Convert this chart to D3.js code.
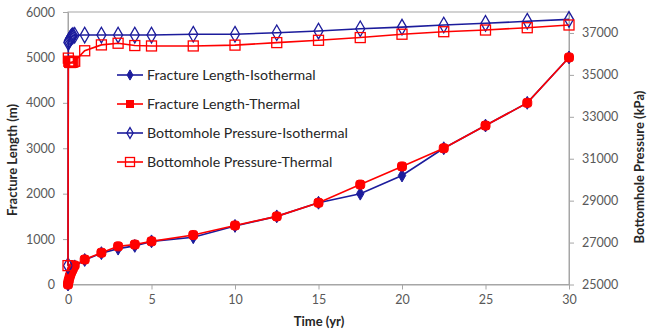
<!DOCTYPE html>
<html><head><meta charset="utf-8">
<script src="https://cdn.jsdelivr.net/npm/d3@7/dist/d3.min.js"></script>
<style>
html,body{margin:0;padding:0;background:#fff;}
text{font-family:Lato,"Liberation Sans",sans-serif;}
</style></head>
<body><svg id="c" width="648" height="335"></svg>
<script>
// ---- data ----
const timeYr = [0,0.02,0.05,0.1,0.15,0.2,0.25,0.3,0.4,1,2,3,4,5,7.5,10,12.5,15,17.5,20,22.5,25,27.5,30];
const lengthIso = [0,40,90,150,200,250,290,330,400,540,690,790,850,950,1040,1290,1500,1800,2000,2400,3000,3500,4000,5000];
const lengthTh  = [0,50,100,170,230,280,320,360,420,550,700,840,880,950,1090,1300,1500,1800,2200,2600,3000,3500,4000,5000];
const bhpIso = [25900,36550,36620,36700,36760,36810,36850,36870,36890,36900,36900,36900,36900,36900,36940,36940,37010,37090,37200,37280,37380,37460,37560,37650];
const bhpTh  = [25900,35800,35650,35600,35590,35600,35610,35620,35650,36150,36430,36510,36400,36380,36380,36420,36540,36650,36780,36940,37060,37140,37250,37380];
const xTicks = [0,5,10,15,20,25,30];
const yLeftTicks = [0,1000,2000,3000,4000,5000,6000];
const yRightTicks = [25000,27000,29000,31000,33000,35000,37000];
const seriesNames = ["Fracture Length-Isothermal","Fracture Length-Thermal","Bottomhole Pressure-Isothermal","Bottomhole Pressure-Thermal"];

// ---- layout ----
const L=68, R=569, T=12, B=284.5;
const svg=d3.select("#c");
const x=d3.scaleLinear().domain([0,30]).range([L,R]);
const yL=d3.scaleLinear().domain([0,6000]).range([B,T]);
const yR=d3.scaleLinear().domain([25000,38000]).range([B,T]);
const navy="#1c1c9c", red="#ff0000", axisCol="#a6a6a6", txt="#595959";
const fmt=d3.format("d");

// plot border
svg.append("rect").attr("x",L).attr("y",T).attr("width",R-L).attr("height",B-T)
  .attr("fill","none").attr("stroke",axisCol).attr("stroke-width",1);

function styleAxis(g){
  g.select(".domain").attr("stroke",axisCol);
  g.selectAll(".tick line").attr("stroke",axisCol);
  g.selectAll(".tick text").attr("fill",txt).style("font-size","12.5px").style("font-family","Lato, sans-serif");
}
svg.append("g").attr("transform",`translate(0,${B})`)
  .call(d3.axisBottom(x).tickValues(xTicks).tickFormat(fmt).tickSize(5).tickPadding(6).tickSizeOuter(0))
  .call(styleAxis);
svg.append("g").attr("transform",`translate(${L},0)`)
  .call(d3.axisLeft(yL).tickValues(yLeftTicks).tickFormat(fmt).tickSize(5).tickPadding(8).tickSizeOuter(0))
  .call(styleAxis);
svg.append("g").attr("transform",`translate(${R},0)`)
  .call(d3.axisRight(yR).tickValues(yRightTicks).tickFormat(fmt).tickSize(5).tickPadding(8).tickSizeOuter(0))
  .call(styleAxis);

// titles
svg.append("text").attr("x",319).attr("y",326).attr("text-anchor","middle")
  .style("font-size","13px").style("font-weight","bold").attr("fill","#262626").text("Time (yr)");
svg.append("text").attr("transform","translate(17,160) rotate(-90)").attr("text-anchor","middle")
  .style("font-size","13px").style("font-weight","bold").attr("fill","#262626").text("Fracture Length (m)");
svg.append("text").attr("transform","translate(644,167) rotate(-90)").attr("text-anchor","middle")
  .style("font-size","13px").style("font-weight","bold").attr("fill","#262626").text("Bottomhole Pressure (kPa)");

// series
const dI=timeYr.map((t,i)=>({t,v:lengthIso[i]}));
const dT=timeYr.map((t,i)=>({t,v:lengthTh[i]}));
const pI=timeYr.map((t,i)=>({t,v:bhpIso[i]}));
const pT=timeYr.map((t,i)=>({t,v:bhpTh[i]}));

const diamond=d3.symbol().type(d3.symbolDiamond);
function drawSeries(data,ys,color,kind){
  const g=svg.append("g");
  g.append("path").datum(data)
    .attr("d",d3.line().x(d=>x(d.t)).y(d=>ys(d.v)))
    .attr("fill","none").attr("stroke",color).attr("stroke-width",1.6);
  drawMarkers(g,data.map(d=>[x(d.t),ys(d.v)]),color,kind);
}
function drawMarkers(g,pts,color,kind,small){
  pts.forEach(([px,py])=>{
    if(kind==="fd"){
      g.append("path").attr("d",diamond.size(small?30:48)()).attr("transform",`translate(${px},${py})`)
        .attr("fill",color).attr("stroke",color).attr("stroke-width",1);
    } else if(kind==="fs"){
      const s=small?7:9;
      g.append("rect").attr("x",px-s/2).attr("y",py-s/2).attr("width",s).attr("height",s)
        .attr("rx",small?0:3).attr("fill",color).attr("stroke",color);
    } else if(kind==="od"){
      g.append("path").attr("d",diamond.size(small?34:70)()).attr("transform",`translate(${px},${py})`)
        .attr("fill","none").attr("stroke",color).attr("stroke-width",1.3);
    } else {
      const s=small?9:10;
      g.append("rect").attr("x",px-s/2).attr("y",py-s/2).attr("width",s).attr("height",s)
        .attr("fill","none").attr("stroke",color).attr("stroke-width",1.3);
    }
  });
}
drawSeries(dI,yL,navy,"fd");
drawSeries(dT,yL,red,"fs");
drawSeries(pI,yR,navy,"od");
drawSeries(pT,yR,red,"os");

// legend
const legY=[75,104,133,162], kinds=["fd","fs","od","os"], cols=[navy,red,navy,red];
seriesNames.forEach((n,i)=>{
  const g=svg.append("g");
  g.append("line").attr("x1",117).attr("x2",143).attr("y1",legY[i]).attr("y2",legY[i])
    .attr("stroke",cols[i]).attr("stroke-width",1.6);
  drawMarkers(g,[[130,legY[i]]],cols[i],kinds[i],true);
  g.append("text").attr("x",147).attr("y",legY[i]+5).style("font-size","14.2px").attr("fill","#262626").text(n);
});
</script></body></html>
